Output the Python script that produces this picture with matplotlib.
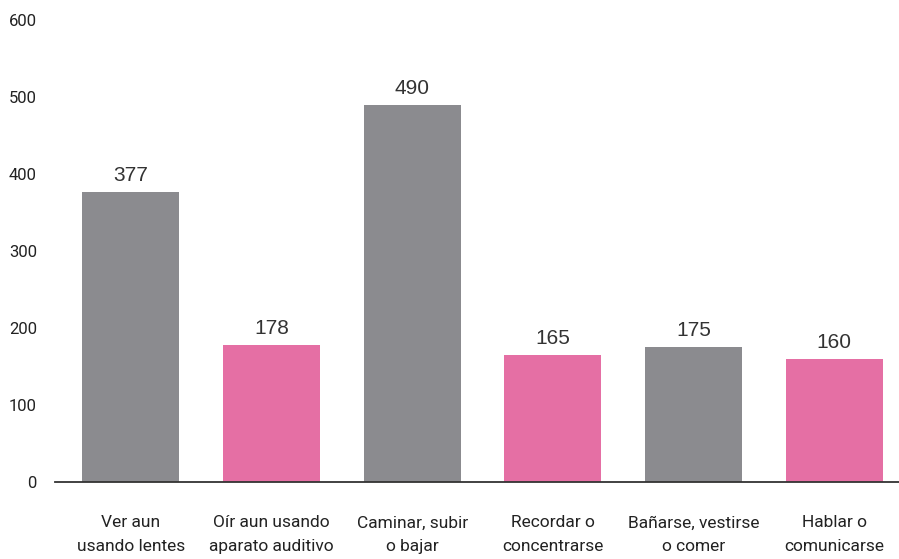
import matplotlib.pyplot as plt
import numpy as np

categories = ['Ver aun\nusando lentes', 'Oír aun usando\naparato auditivo', 'Caminar, subir\no bajar',
              'Recordar o\nconcentrarse', 'Bañarse, vestirse\no comer', 'Hablar o\ncomunicarse']
values = [377, 178, 490, 165, 175, 160]
colors = ['#8b8b8f', '#e56fa4', '#8b8b8f', '#e56fa4', '#8b8b8f', '#e56fa4']

plt.rcParams['font.family'] = ['Roboto', 'DejaVu Sans']

fig = plt.figure(figsize=(8.99, 5.59), dpi=100)
ax = fig.add_axes([55 / 899, 77 / 559, 844 / 899, 462 / 559])

x = np.arange(len(categories))
bars = ax.bar(x, values, width=0.69, color=colors)

for b, v in zip(bars, values):
    ax.annotate(str(v), (b.get_x() + b.get_width() / 2, v), xytext=(0, 5),
                textcoords='offset points', ha='center', va='bottom',
                fontsize=15, color='#333333', family='Liberation Sans')

ax.set_xlim(-0.54, 5.46)
ax.set_ylim(0, 600)
ax.set_yticks(range(0, 601, 100))
ax.set_xticks(x)
ax.set_xticklabels(categories, fontsize=12.5, color='#222222', linespacing=1.75)
ax.tick_params(axis='x', length=0, pad=24)
ax.tick_params(axis='y', length=0, pad=13, labelsize=12, labelcolor='#222222')

for s in ['top', 'right', 'left']:
    ax.spines[s].set_visible(False)
ax.spines['bottom'].set_color('#333333')
ax.spines['bottom'].set_linewidth(1.3)

fig.savefig('out.png', dpi=100)
